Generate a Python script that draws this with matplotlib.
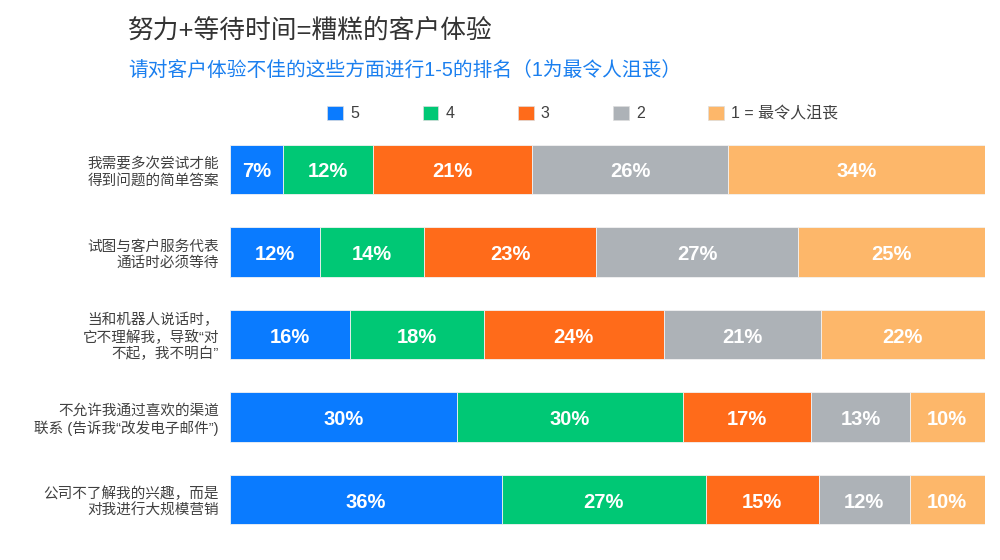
import matplotlib
matplotlib.use("Agg")
import numpy as np
import matplotlib.pyplot as plt
import matplotlib.patches as mpatches

# Latin text in an Arial-like face, CJK falls through to Noto
plt.rcParams['font.family'] = ['Liberation Sans', 'Noto Sans CJK SC', 'DejaVu Sans']

# data
questions = [
    "我需要多次尝试才能\n得到问题的简单答案",
    "试图与客户服务代表\n通话时必须等待",
    "当和机器人说话时，\n它不理解我，导致“对\n不起，我不明白”",
    "不允许我通过喜欢的渠道\n联系 (告诉我“改发电子邮件”)",
    "公司不了解我的兴趣，而是\n对我进行大规模营销",
]
ranks = ["5", "4", "3", "2", "1 = 最令人沮丧"]
rank5 = [7, 12, 16, 30, 36]
rank4 = [12, 14, 18, 30, 27]
rank3 = [21, 23, 24, 17, 15]
rank2 = [26, 27, 21, 13, 12]
rank1 = [34, 25, 22, 10, 10]

colors = ["#0A7BFF", "#00C875", "#FF6B1A", "#ADB2B7", "#FDB76A"]

series = np.array([rank5, rank4, rank3, rank2, rank1], dtype=float)
totals = series.sum(axis=0)
shares = series / totals  # each row fills the full width

fig = plt.figure(figsize=(10, 5.6), dpi=100)
ax = fig.add_axes([0.23, 0.034, 0.755, 0.737])

y = np.arange(len(questions))
left = np.zeros(len(questions))
for i in range(len(ranks)):
    ax.barh(y, shares[i], left=left, height=0.6, color=colors[i],
            edgecolor="#f2f2f2", linewidth=0.6)
    for j in range(len(questions)):
        ax.text(left[j] + shares[i][j] / 2, y[j] + 0.03, f"{int(series[i][j])}%",
                ha="center", va="center", color="white", fontsize=14.5,
                fontweight="bold")
    left += shares[i]

ax.set_xlim(0, 1)
ax.set_ylim(len(questions) - 0.5, -0.5)
ax.set_yticks(y)
ax.set_yticklabels(questions, fontsize=10.5, color="#404040", linespacing=1.2)
ax.tick_params(axis="y", length=0, pad=8)
ax.set_xticks([])
for s in ax.spines.values():
    s.set_visible(False)

# titles
fig.text(0.128, 0.945, "努力+等待时间=糟糕的客户体验", fontsize=18.5,
         color="#333333", va="center")
fig.text(0.128, 0.872, "请对客户体验不佳的这些方面进行1-5的排名（1为最令人沮丧）",
         fontsize=14.2, color="#1A7FEF", va="center")

# legend
handles = [mpatches.Patch(facecolor=c, edgecolor="#dddddd", linewidth=0.5, label=r)
           for c, r in zip(colors, ranks)]
fig.legend(handles=handles, ncol=5, loc="center left", bbox_to_anchor=(0.313, 0.797),
           frameon=False, fontsize=11.5, handlelength=1.0, handleheight=1.0,
           handletextpad=0.45, columnspacing=3.95, labelcolor="#404040")

fig.savefig("out.png", dpi=100)
